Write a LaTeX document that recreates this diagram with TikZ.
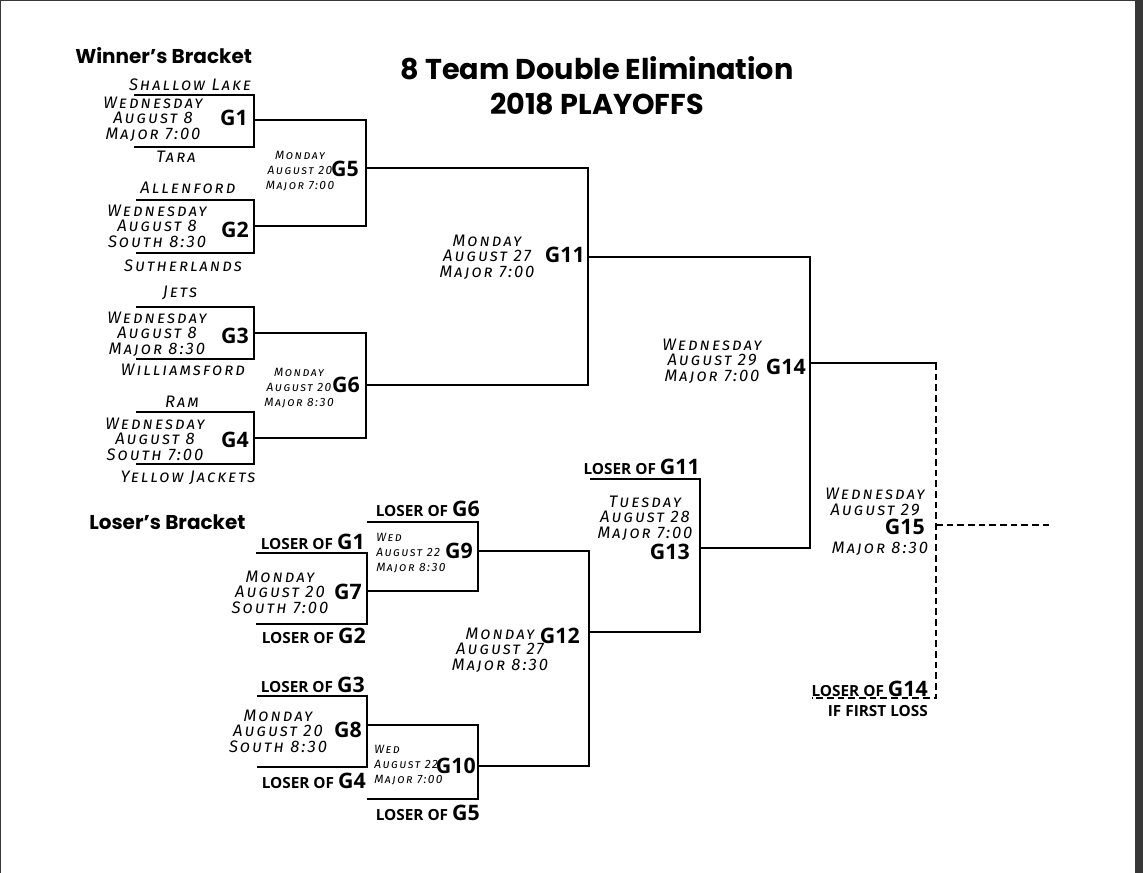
\documentclass[tikz,border=0pt]{standalone}
\usepackage{fontspec}
\setmainfont{Open Sans}
\newfontfamily\titlefont{Poppins}
\newfontfamily\handfont{Fira Sans}[Letters=SmallCaps, LetterSpace=12]
\definecolor{pageedge}{RGB}{55,55,55}
\newcommand\loserof[1]{LOSER OF {\fontsize{16}{16}\selectfont #1}}

\begin{document}
\begin{tikzpicture}[
    x=0.75pt, y=-0.75pt,
    bline/.style={line width=1.4pt, line cap=rect},
    hand/.style={font=\handfont\itshape\fontsize{12.5}{11.6}\selectfont, align=center, inner sep=0pt},
    handsmall/.style={font=\handfont\itshape\fontsize{9}{11}\selectfont, align=center, inner sep=0pt},
    game/.style={font=\bfseries\fontsize{16}{16}\selectfont, inner sep=0pt},
    loser/.style={font=\bfseries\fontsize{11.5}{13}\selectfont, inner sep=0pt},
    head/.style={font=\titlefont\bfseries\fontsize{15}{16}\selectfont, inner sep=0pt},
    title/.style={font=\titlefont\bfseries\fontsize{21.5}{26}\selectfont, align=center, inner sep=0pt}
]
% page
\fill[pageedge] (0,0) rectangle (1143,873);
\fill[white] (1,1) rectangle (1135,873);

% headings
\node[title] (title) at (597,86) {8 Team Double Elimination\\2018 PLAYOFFS};
\node[head, anchor=west] (winners) at (75,56) {Winner’s Bracket};
\node[head, anchor=west] (losers) at (89,522) {Loser’s Bracket};

% bracket points
\coordinate (t1a) at (135,95);  \coordinate (t1b) at (135,147);
\coordinate (t2a) at (137,200); \coordinate (t2b) at (137,253);
\coordinate (t3a) at (137,307); \coordinate (t3b) at (137,359);
\coordinate (t4a) at (137,412); \coordinate (t4b) at (137,464);
\coordinate (g1) at (254,120);  \coordinate (g2) at (254,226);
\coordinate (g3) at (254,333);  \coordinate (g4) at (254,438);
\coordinate (g5) at (366,168);  \coordinate (g6) at (366,385);
\coordinate (g11) at (588,257); \coordinate (g14) at (810,363);
\coordinate (g15) at (936,525); \coordinate (g15out) at (1050,525);
\coordinate (l1) at (257,553);  \coordinate (l2) at (257,624);
\coordinate (l3) at (258,696);  \coordinate (l4) at (258,767);
\coordinate (l6) at (368,522);  \coordinate (l5) at (368,799);
\coordinate (l11) at (591,479); \coordinate (l14) at (812,698);
\coordinate (g7) at (367,591);  \coordinate (g8) at (367,725);
\coordinate (g9) at (478,551);  \coordinate (g10) at (478,766);
\coordinate (g12) at (589,632); \coordinate (g13) at (700,548);

% winner's bracket
\draw[bline] (t1a) -| (g1) |- (t1b);
\draw[bline] (t2a) -| (g2) |- (t2b);
\draw[bline] (t3a) -| (g3) |- (t3b);
\draw[bline] (t4a) -| (g4) |- (t4b);
\draw[bline] (g1) -| (g5) |- (g2);
\draw[bline] (g3) -| (g6) |- (g4);
\draw[bline] (g5) -| (g11) |- (g6);
\draw[bline] (g11) -| (g14) |- (g13);
\draw[bline] (g14) -- (g14 -| g15);

% loser's bracket
\draw[bline] (l1) -| (g7) |- (l2);
\draw[bline] (l3) -| (g8) |- (l4);
\draw[bline] (l6) -| (g9) |- (g7);
\draw[bline] (g8) -| (g10) |- (l5);
\draw[bline] (g9) -| (g12) |- (g10);
\draw[bline] (l11) -| (g13) |- (g12);

% final
\draw[bline, line cap=butt, dash pattern=on 5pt off 3pt] (g14 -| g15) |- (l14);
\draw[bline, line cap=butt, dash pattern=on 5pt off 3pt] (g15) -- (g15out);

% teams
\node[hand] (team1) at (190,85) {Shallow Lake};
\node[hand] (team2) at (176,157) {Tara};
\node[hand] (team3) at (188,188) {Allenford};
\node[hand] (team4) at (183,266) {Sutherlands};
\node[hand] (team5) at (180,293) {Jets};
\node[hand] (team6) at (183,370) {Williamsford};
\node[hand] (team7) at (182,402) {Ram};
\node[hand] (team8) at (188,478) {Yellow Jackets};

% game times
\node[hand] (time1) at (153,119) {Wednesday\\August 8\\Major 7:00};
\node[hand] (time2) at (157,226) {Wednesday\\August 8\\South 8:30};
\node[hand] (time3) at (157,334) {Wednesday\\August 8\\Major 8:30};
\node[hand] (time4) at (155,439) {Wednesday\\August 8\\South 7:00};
\node[handsmall] (time5) at (300,171) {Monday\\August 20\\Major 7:00};
\node[handsmall] (time6) at (299,388) {Monday\\August 20\\Major 8:30};
\node[hand] (time11) at (487,257) {Monday\\August 27\\Major 7:00};
\node[hand] (time14) at (712,361) {Wednesday\\August 29\\Major 7:00};
\node[hand] (time13) at (645,518) {Tuesday\\August 28\\Major 7:00};
\node[hand] (time12) at (500,650) {Monday\\August 27\\Major 8:30};
\node[hand] (time15) at (875,502) {Wednesday\\August 29};
\node[hand] (time15b) at (880,549) {Major 8:30};
\node[handsmall, align=left, anchor=west] (time9) at (376,553) {Wed\\August 22\\Major 8:30};
\node[handsmall, align=left, anchor=west] (time10) at (374,765) {Wed\\August 22\\Major 7:00};
\node[hand] (time7) at (280,592) {Monday\\August 20\\South 7:00};
\node[hand] (time8) at (278,731) {Monday\\August 20\\South 8:30};

% game labels
\node[game, anchor=east] (lab1) at (248,118) {G1};
\node[game, anchor=east] (lab2) at (249,230) {G2};
\node[game, anchor=east] (lab3) at (249,336) {G3};
\node[game, anchor=east] (lab4) at (249,440) {G4};
\node[game, anchor=east] (lab5) at (359,169) {G5};
\node[game, anchor=east] (lab6) at (360,385) {G6};
\node[game, anchor=east] (lab11) at (585,255) {G11};
\node[game, anchor=east] (lab14) at (806,367) {G14};
\node[game, anchor=east] (lab13) at (690,552) {G13};
\node[game, anchor=east] (lab12) at (580,636) {G12};
\node[game, anchor=east] (lab15) at (925,527) {G15};
\node[game, anchor=east] (lab9) at (473,551) {G9};
\node[game, anchor=east] (lab10) at (476,766) {G10};
\node[game, anchor=east] (lab7) at (362,592) {G7};
\node[game, anchor=east] (lab8) at (362,730) {G8};

% losers coming in
\node[loser, anchor=base east] (from1) at (365,549) {\loserof{G1}};
\node[loser, anchor=base east] (from2) at (366,643) {\loserof{G2}};
\node[loser, anchor=base east] (from3) at (365,692) {\loserof{G3}};
\node[loser, anchor=base east] (from4) at (366,788) {\loserof{G4}};
\node[loser, anchor=base east] (from6) at (480,517) {\loserof{G6}};
\node[loser, anchor=base east] (from5) at (480,820) {\loserof{G5}};
\node[loser, anchor=base east] (from11) at (700,475) {\loserof{G11}};
\node[loser, anchor=base east] (from14) at (928,696) {\loserof{G14}};
\node[loser, anchor=base east] (firstloss) at (928,716) {IF FIRST LOSS};

\end{tikzpicture}
\end{document}
